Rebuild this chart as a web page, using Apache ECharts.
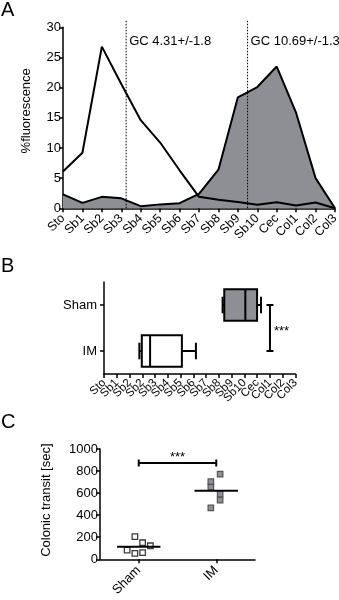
<!DOCTYPE html>
<html><head><meta charset="utf-8">
<script src="https://cdn.jsdelivr.net/npm/echarts/dist/echarts.min.js"></script>
<style>html,body{margin:0;padding:0;background:#fff}#c{width:339px;height:600px}</style>
</head><body><div id="c"></div>
<script>
// ---- Panel A data ----
const aCategories = ['Sto','Sb1','Sb2','Sb3','Sb4','Sb5','Sb6','Sb7','Sb8','Sb9','Sb10','Cec','Col1','Col2','Col3'];
const imFluor   = [6.1, 9.2, 26.8, 20.6, 14.6, 10.9, 6.3, 1.9, 1.4, 1.05, 0.6, 1.0, 0.45, 0.95, 0];
const shamFluor = [2.3, 0.9, 1.9, 1.65, 0.35, 0.65, 0.85, 2.4, 6.4, 18.4, 20.1, 23.5, 15.8, 5.0, 0];
const gcMean = [4.31, 10.69];
const gcSd = [1.8, 1.3];
const gcMarkerAt = [3.25, 9.5];
const aTicks = [0, 5, 10, 15, 20, 25, 30];
// ---- Panel B data ----
const bTickLabels = ['Sto','Sb1','Sb2','Sb2','Sb3','Sb4','Sb5','Sb6','Sb7','Sb8','Sb9','Sb10','Cec','Col1','Col2','Col3'];
const boxGroups = ['IM','Sham'];
const imBox   = [2.77, 2.96, 3.61, 6.1, 7.2];   // min, q1, median, q3, max
const shamBox = [9.29, 9.42, 11.07, 11.99, 12.3];
// ---- Panel C data ----
const transitGroups = ['Sham','IM'];
const shamTransit = [205, 150, 123, 84, 54, 60];
const imTransit   = [773, 704, 654, 592, 536, 467];
const shamColumnOffset = [-0.05, 0.05, 0.15, -0.15, -0.05, 0.05];
const imColumnOffset   = [0.05, -0.07, -0.07, 0.05, 0.05, -0.07];
const cTicks = [0, 200, 400, 600, 800, 1000];

const FONT = '"Liberation Sans", Arial, Helvetica, sans-serif';
const GREY = '#8d8f94';
const BLACK = '#000';
const mean = a => a.reduce((s, v) => s + v, 0) / a.length;

const axisLineStyle = {show: true, onZero: false, lineStyle: {color: BLACK, width: 1.5}};
const tickStyle = {show: true, length: 4, inside: false, lineStyle: {color: BLACK, width: 1.5}};
const lbl = (size, extra) => Object.assign({color: BLACK, fontSize: size, fontFamily: FONT,
  showMinLabel: true, showMaxLabel: true, hideOverlap: false}, extra || {});

const chart = echarts.init(document.getElementById('c'), null, {renderer: 'canvas'});

const option = {
  animation: false,
  backgroundColor: '#fff',
  textStyle: {fontFamily: FONT},
  grid: [
    {left: 63, top: 27.3, width: 272, height: 181, outerBoundsMode: 'none', containLabel: false},
    {left: 104, top: 282, width: 191.5, height: 92, outerBoundsMode: 'none', containLabel: false},
    {left: 100, top: 449, width: 155, height: 110.3, outerBoundsMode: 'none', containLabel: false}
  ],
  graphic: [
    {type: 'text', left: 1, top: 0, style: {text: 'A', font: '20px ' + FONT, fill: BLACK}},
    {type: 'text', left: 1, top: 256, style: {text: 'B', font: '20px ' + FONT, fill: BLACK}},
    {type: 'text', left: 1, top: 412, style: {text: 'C', font: '20px ' + FONT, fill: BLACK}}
  ],
  xAxis: [
    {gridIndex: 0, type: 'value', min: 0, max: aCategories.length - 1, interval: 1,
     axisLine: axisLineStyle, axisTick: tickStyle, splitLine: {show: false},
     axisLabel: lbl(12.5, {rotate: 45, margin: 8, formatter: v => aCategories[v] || ''})},
    // Panel B: category axis carries the 16 tick labels, hidden value axis carries the boxes
    {gridIndex: 1, type: 'category', data: bTickLabels, boundaryGap: false,
     axisLine: axisLineStyle, axisTick: Object.assign({interval: 0}, tickStyle), splitLine: {show: false},
     axisLabel: lbl(11.5, {rotate: 45, margin: 7, interval: 0})},
    {gridIndex: 2, type: 'category', data: transitGroups, boundaryGap: true,
     axisLine: axisLineStyle, axisTick: Object.assign({alignWithLabel: true}, tickStyle),
     axisLabel: lbl(13, {rotate: 45, margin: 9, interval: 0})},
    {gridIndex: 2, type: 'value', min: -0.5, max: 1.5, show: false},
    {gridIndex: 1, type: 'value', min: 0, max: bTickLabels.length - 1, show: false}
  ],
  yAxis: [
    {gridIndex: 0, type: 'value', min: 0, max: 30, interval: 5,
     name: '%fluorescence', nameLocation: 'middle', nameGap: 30, nameMoveOverlap: false,
     nameTextStyle: lbl(13, {padding: [0, 0, 0, 14]}),
     axisLine: axisLineStyle, axisTick: tickStyle, splitLine: {show: false},
     axisLabel: lbl(13, {margin: 2, formatter: v => String(v)})},
    {gridIndex: 1, type: 'category', data: boxGroups, boundaryGap: true,
     axisLine: axisLineStyle, axisTick: Object.assign({alignWithLabel: true}, tickStyle),
     axisLabel: lbl(13, {margin: 7})},
    {gridIndex: 2, type: 'value', min: 0, max: 1000, interval: 200,
     name: 'Colonic transit [sec]', nameLocation: 'middle', nameGap: 47, nameMoveOverlap: false,
     nameTextStyle: lbl(13, {padding: [0, 0, 0, 8]}),
     axisLine: axisLineStyle, axisTick: tickStyle, splitLine: {show: false},
     axisLabel: lbl(13, {margin: 2, formatter: v => String(v)})}
  ],
  series: [
    // Panel A
    {type: 'line', xAxisIndex: 0, yAxisIndex: 0, z: 2, symbol: 'none',
     data: shamFluor.map((v, i) => [i, v]),
     lineStyle: {color: BLACK, width: 2}, areaStyle: {color: GREY, opacity: 1}},
    {type: 'line', xAxisIndex: 0, yAxisIndex: 0, z: 3, symbol: 'none',
     data: imFluor.map((v, i) => [i, v]),
     lineStyle: {color: BLACK, width: 2}},
    {type: 'custom', xAxisIndex: 0, yAxisIndex: 0, z: 4, clip: false,
     data: gcMarkerAt.map((x, i) => [x, 0, i]),
     encode: {x: 0, y: 1},
     renderItem: (params, api) => {
       const x = api.value(0), i = api.value(2);
       const p0 = api.coord([x, 0]), p1 = api.coord([x, 30]);
       return {type: 'group', children: [
         {type: 'line', shape: {x1: p0[0], y1: p0[1], x2: p0[0], y2: p1[1] - 7},
          style: {stroke: BLACK, lineWidth: 1, lineDash: [1.5, 1.5]}},
         {type: 'text', x: p0[0] + 3, y: p1[1] + 14.5,
          style: {text: 'GC ' + gcMean[i] + '+/-' + gcSd[i], font: '13px ' + FONT, fill: BLACK,
                  align: 'left', verticalAlign: 'middle'}}
       ]};
     }},
    // Panel B boxes
    {type: 'custom', xAxisIndex: 4, yAxisIndex: 1, z: 3, clip: false,
     data: [[0].concat(imBox), [1].concat(shamBox)],
     encode: {y: 0, x: [1, 2, 3, 4, 5]},
     renderItem: (params, api) => {
       const c = api.value(0);
       const band = api.size([0, 1])[1];
       const h = band * 0.68, cap = band * 0.18;
       const px = k => api.coord([api.value(k), c]);
       const pMin = px(1), pQ1 = px(2), pMed = px(3), pQ3 = px(4), pMax = px(5);
       const y = pMed[1];
       const st = {stroke: BLACK, lineWidth: 2};
       return {type: 'group', children: [
         {type: 'line', shape: {x1: pMin[0], y1: y, x2: pQ1[0], y2: y}, style: st},
         {type: 'line', shape: {x1: pQ3[0], y1: y, x2: pMax[0], y2: y}, style: st},
         {type: 'line', shape: {x1: pMin[0], y1: y - cap, x2: pMin[0], y2: y + cap}, style: st},
         {type: 'line', shape: {x1: pMax[0], y1: y - cap, x2: pMax[0], y2: y + cap}, style: st},
         {type: 'rect', shape: {x: pQ1[0], y: y - h / 2, width: pQ3[0] - pQ1[0], height: h},
          style: {fill: c === 1 ? GREY : '#fff', stroke: BLACK, lineWidth: 2}},
         {type: 'line', shape: {x1: pMed[0], y1: y - h / 2, x2: pMed[0], y2: y + h / 2}, style: st}
       ]};
     }},
    {type: 'custom', xAxisIndex: 4, yAxisIndex: 1, z: 3, clip: false,
     data: [[Math.max(imBox[4], shamBox[4]) + 0.7, 0, 1]],
     encode: {x: 0},
     renderItem: (params, api) => {
       const x = api.value(0);
       const a = api.coord([x, api.value(1)]), b = api.coord([x, api.value(2)]);
       const st = {stroke: BLACK, lineWidth: 2};
       return {type: 'group', children: [
         {type: 'line', shape: {x1: a[0], y1: a[1], x2: b[0], y2: b[1]}, style: st},
         {type: 'line', shape: {x1: a[0] - 3.5, y1: a[1], x2: a[0] + 3.5, y2: a[1]}, style: st},
         {type: 'line', shape: {x1: b[0] - 3.5, y1: b[1], x2: b[0] + 3.5, y2: b[1]}, style: st},
         {type: 'text', x: a[0] + 4, y: (a[1] + b[1]) / 2 + 3,
          style: {text: '***', font: '13px ' + FONT, fill: BLACK, align: 'left', verticalAlign: 'middle'}}
       ]};
     }},
    // Panel C
    {type: 'custom', xAxisIndex: 2, yAxisIndex: 2, z: 4, clip: false,
     data: [[0, mean(shamTransit)], [1, mean(imTransit)]],
     encode: {x: 0, y: 1},
     renderItem: (params, api) => {
       const p = api.coord([api.value(0), api.value(1)]);
       const w = api.size([1, 0])[0] * 0.56;
       return {type: 'line', shape: {x1: p[0] - w / 2, y1: p[1], x2: p[0] + w / 2, y2: p[1]},
               style: {stroke: BLACK, lineWidth: 2}};
     }},
    {type: 'custom', xAxisIndex: 2, yAxisIndex: 2, z: 4, clip: false,
     data: [[0, 1, Math.max(...shamTransit, ...imTransit) + 100]],
     encode: {x: [0, 1], y: 2},
     renderItem: (params, api) => {
       const a = api.coord([api.value(0), api.value(2)]), b = api.coord([api.value(1), api.value(2)]);
       const st = {stroke: BLACK, lineWidth: 2};
       return {type: 'group', children: [
         {type: 'line', shape: {x1: a[0], y1: a[1], x2: b[0], y2: b[1]}, style: st},
         {type: 'line', shape: {x1: a[0], y1: a[1] - 3.5, x2: a[0], y2: a[1] + 3.5}, style: st},
         {type: 'line', shape: {x1: b[0], y1: b[1] - 3.5, x2: b[0], y2: b[1] + 3.5}, style: st},
         {type: 'text', x: (a[0] + b[0]) / 2, y: a[1] - 6,
          style: {text: '***', font: '13px ' + FONT, fill: BLACK, align: 'center', verticalAlign: 'middle'}}
       ]};
     }},
    {type: 'scatter', xAxisIndex: 3, yAxisIndex: 2, z: 3, symbol: 'rect', symbolSize: 5.5,
     data: shamTransit.map((v, i) => [0 + shamColumnOffset[i], v]),
     itemStyle: {color: '#fff', borderColor: '#3a3a3a', borderWidth: 1.3, opacity: 1}},
    {type: 'scatter', xAxisIndex: 3, yAxisIndex: 2, z: 3, symbol: 'rect', symbolSize: 5.5,
     data: imTransit.map((v, i) => [1 + imColumnOffset[i], v]),
     itemStyle: {color: GREY, borderColor: '#555', borderWidth: 1.2, opacity: 1}}
  ]
};
chart.setOption(option);
</script>
</body></html>
